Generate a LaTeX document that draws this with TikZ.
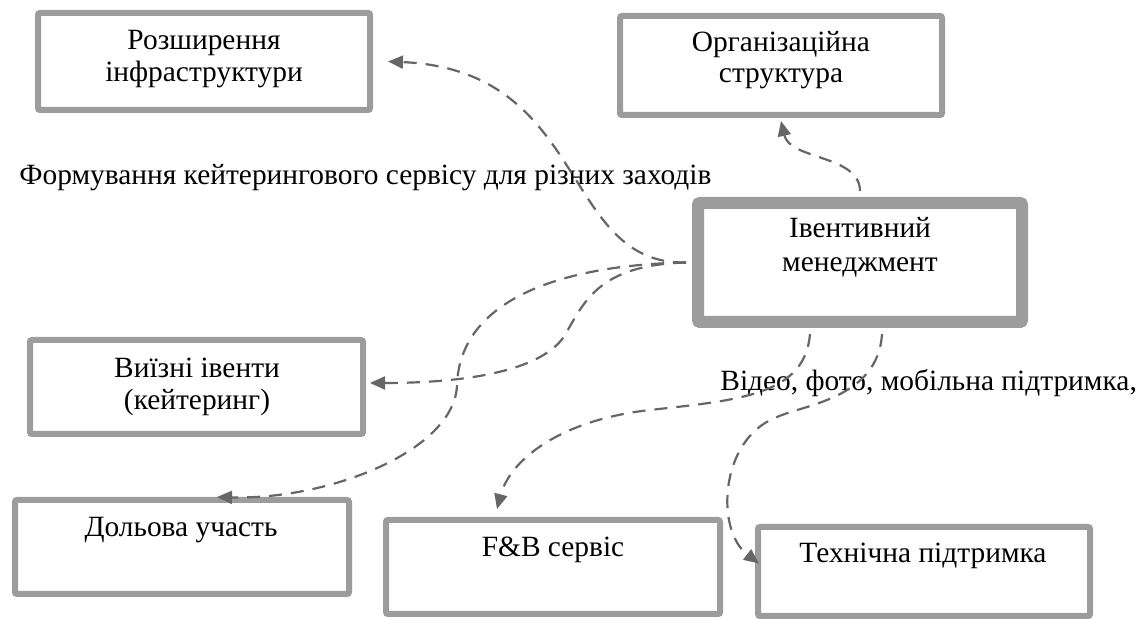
\documentclass[tikz,border=0pt]{standalone}
\usepackage{fontspec}
\setmainfont{Liberation Serif}
\usetikzlibrary{arrows.meta}
\definecolor{boxgray}{HTML}{9C9C9C}
\definecolor{arrgray}{HTML}{666666}
\begin{document}
\begin{tikzpicture}[x=0.5pt,y=-0.5pt,
  box/.style={draw=boxgray,line width=3pt,rounded corners=1pt,inner sep=0pt},
  lbl/.style={anchor=base,inner sep=0pt,font=\fontsize{14.7}{17}\selectfont},
  conn/.style={draw=arrgray,line width=1.1pt,dash pattern=on 6.5pt off 4.5pt,
    -{Triangle[length=7.5pt,width=6.5pt]}}]
\useasboundingbox (0,0) rectangle (1137,619);
% boxes
\node[box,minimum width=166pt,minimum height=48.5pt] (b1) at (204,61.5) {};
\node[box,minimum width=161pt,minimum height=49.5pt] (b2) at (781,65.5) {};
\node[box,line width=6pt,minimum width=162pt,minimum height=59.5pt] (b3) at (860,262.5) {};
\node[box,minimum width=166.5pt,minimum height=47pt] (b4) at (196.5,387) {};
\node[box,minimum width=167pt,minimum height=47pt] (b5) at (182,547) {};
\node[box,minimum width=167pt,minimum height=47pt] (b6) at (553,567) {};
\node[box,minimum width=166pt,minimum height=44.5pt] (b7) at (924,571.5) {};
% texts
\node[lbl] (t1a) at (204,50) {Розширення};
\node[lbl] (t1b) at (204,82) {інфраструктури};
\node[lbl] (t2a) at (781,52) {Організаційна};
\node[lbl] (t2b) at (781,83) {структура};
\node[lbl] (t3a) at (860,238) {Івентивний};
\node[lbl] (t3b) at (860,272) {менеджмент};
\node[lbl] (t4a) at (197,378) {Виїзні івенти};
\node[lbl] (t4b) at (197,410) {(кейтеринг)};
\node[lbl] (t5) at (181,537) {Дольова участь};
\node[lbl] (t6) at (553,557) {F\&B сервіс};
\node[lbl] (t7) at (923,563) {Технічна підтримка};
\node[lbl,anchor=base west] (c1) at (19,185) {Формування кейтерингового сервісу для різних заходів};
\node[lbl,anchor=base west] (c2) at (720,391) {Відео, фото, мобільна підтримка,};
% connectors
\draw[conn] ([xshift=-3pt]b3.west) .. controls (560,265) and (590,70) .. ([xshift=7.5pt]b1.east);
\draw[conn] ([yshift=3pt]b3.north) .. controls (860,155) and (790,160) .. ([yshift=-1.5pt]b2.south);
\draw[conn] ([xshift=-3pt]b3.west) .. controls (600,265) and (585,300) .. (565,335)
  .. controls (540,375) and (450,383) .. ([xshift=2pt,yshift=2pt]b4.east);
\draw[conn] ([xshift=-3pt]b3.west) .. controls (560,265) and (460,300) .. (457,385)
  .. controls (455,450) and (330,500) .. ([xshift=17.5pt]b5.north);
\draw[conn] ([xshift=-25pt,yshift=-3pt]b3.south) .. controls (805,395) and (740,400) .. (650,410)
  .. controls (560,420) and (510,460) .. ([xshift=-28pt,yshift=4pt]b6.north);
\draw[conn] ([xshift=11pt,yshift=-3pt]b3.south) .. controls (878,400) and (800,405) .. (775,418)
  .. controls (720,440) and (715,530) .. ([xshift=2pt,yshift=4pt]b7.west);
\end{tikzpicture}
\end{document}
